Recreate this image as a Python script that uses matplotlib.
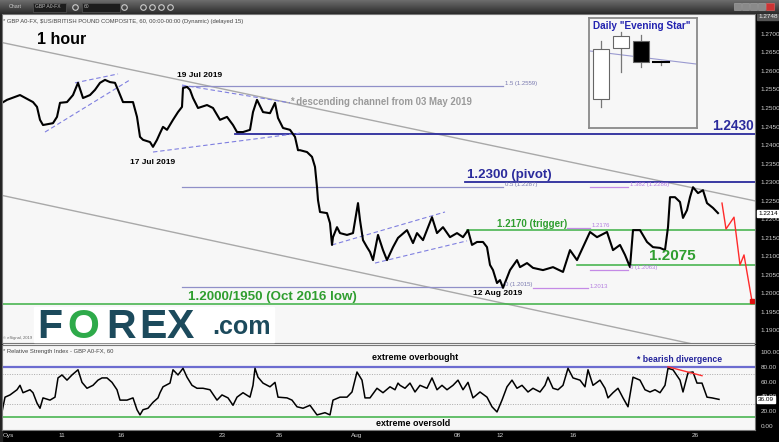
import numpy as np
import matplotlib.pyplot as plt
from matplotlib.patches import Rectangle
from matplotlib.colors import LinearSegmentedColormap
import matplotlib.transforms as mtransforms

plt.rcParams['font.family'] = ['Liberation Sans', 'DejaVu Sans']

# GBP/USD hourly closes (bar number, price)
bars = [2, 7, 20, 33, 37, 40, 43, 53, 57, 60, 67, 73, 78, 83, 90, 95, 100, 105, 110, 115,
        118, 123, 133, 137, 140, 143, 150, 153, 157, 160, 163, 167, 173, 178, 182, 183, 187, 190, 193, 198,
        207, 213, 220, 227, 233, 237, 243, 250, 253, 257, 263, 270, 275, 278, 283, 290, 295, 298, 300, 307,
        312, 315, 317, 318, 320, 327, 330, 332, 333, 337, 340, 347, 353, 358, 360, 363, 367, 370, 373, 378,
        383, 387, 393, 398, 407, 413, 417, 423, 432, 437, 443, 450, 457, 463, 468, 472, 477, 483, 487, 490,
        493, 497, 500, 503, 507, 510, 517, 520, 527, 533, 543, 553, 563, 570, 577, 583, 590, 597, 607, 613,
        620, 625, 630, 633, 640, 647, 653, 660, 665, 668, 670, 675, 680, 683, 687, 690, 693, 698, 703, 707,
        713, 718]
prices = [1.2514, 1.2522, 1.2535, 1.2516, 1.2503, 1.2468, 1.2454, 1.2459, 1.2476, 1.2514, 1.2516, 1.2535,
          1.2568, 1.2527, 1.2535, 1.2549, 1.2568, 1.2576, 1.2570, 1.2568, 1.2549, 1.2516, 1.2516, 1.2476,
          1.2422, 1.2414, 1.2408, 1.2395, 1.2414, 1.2432, 1.2449, 1.2441, 1.2468, 1.2489, 1.2503, 1.2554,
          1.2557, 1.2549, 1.2527, 1.2500, 1.2508, 1.2500, 1.2468, 1.2476, 1.2454, 1.2435, 1.2435, 1.2441,
          1.2489, 1.2522, 1.2489, 1.2486, 1.2514, 1.2473, 1.2446, 1.2441, 1.2422, 1.2386, 1.2386, 1.2381,
          1.2368, 1.2341, 1.2286, 1.2251, 1.2219, 1.2216, 1.2189, 1.2130, 1.2151, 1.2178, 1.2162, 1.2157,
          1.2162, 1.2243, 1.2197, 1.2143, 1.2124, 1.2111, 1.2089, 1.2157, 1.2116, 1.2089, 1.2124, 1.2149,
          1.2170, 1.2135, 1.2162, 1.2143, 1.2205, 1.2162, 1.2178, 1.2151, 1.2162, 1.2151, 1.2170, 1.2130,
          1.2138, 1.2138, 1.2124, 1.2076, 1.2062, 1.2027, 1.2035, 1.2014, 1.2041, 1.2062, 1.2089, 1.2070,
          1.2081, 1.2068, 1.2062, 1.2070, 1.2057, 1.2116, 1.2089, 1.2124, 1.2165, 1.2151, 1.2165, 1.2116,
          1.2130, 1.2103, 1.2070, 1.2170, 1.2170, 1.2138, 1.2124, 1.2122, 1.2116, 1.2178, 1.2259, 1.2259,
          1.2246, 1.2203, 1.2224, 1.2259, 1.2286, 1.2270, 1.2278, 1.2243, 1.2230, 1.2216]

# RSI(14) on the same bars
rsi_bars = [2, 5, 10, 17, 20, 23, 30, 33, 37, 40, 43, 50, 55, 58, 62, 67, 72, 78, 82, 87,
            93, 98, 102, 107, 112, 117, 120, 127, 133, 137, 140, 143, 148, 153, 158, 160, 163, 170, 173, 178,
            183, 187, 192, 197, 203, 210, 217, 222, 228, 233, 237, 243, 250, 253, 255, 258, 263, 270, 275, 278,
            287, 292, 297, 303, 310, 317, 325, 330, 333, 340, 347, 352, 357, 362, 365, 370, 377, 383, 390, 395,
            398, 400, 405, 410, 415, 420, 427, 432, 437, 442, 447, 453, 458, 463, 468, 473, 480, 487, 492, 497,
            502, 507, 512, 517, 522, 528, 533, 540, 545, 548, 553, 558, 563, 568, 573, 580, 585, 588, 593, 600,
            605, 608, 613, 618, 623, 628, 633, 640, 645, 650, 655, 660, 665, 668, 673, 680, 683, 688, 693, 697,
            702, 707, 712, 719]
rsi_vals = [19, 39, 42, 49, 55, 45, 49, 45, 31, 24, 38, 35, 39, 65, 69, 62, 69, 76, 59, 51,
            55, 62, 65, 65, 59, 49, 35, 35, 38, 22, 15, 22, 24, 32, 38, 45, 53, 58, 76, 69,
            78, 66, 55, 51, 51, 49, 35, 42, 38, 28, 39, 45, 39, 55, 78, 66, 58, 53, 59, 39,
            38, 35, 26, 24, 28, 15, 18, 15, 35, 39, 39, 46, 73, 62, 38, 38, 51, 45, 53, 49,
            58, 55, 51, 58, 46, 55, 51, 65, 49, 55, 49, 55, 62, 49, 59, 38, 46, 39, 26, 19,
            35, 53, 62, 51, 55, 46, 51, 46, 55, 66, 51, 49, 55, 78, 65, 62, 53, 76, 55, 62,
            51, 38, 45, 51, 38, 26, 66, 62, 49, 46, 49, 45, 55, 78, 76, 62, 46, 72, 73, 58,
            58, 39, 38, 36]

# key levels: (price, start bar)
blue_levels = [(1.2430, 235), (1.2300, 465)]
green_levels = [(1.2170, 467), (1.2075, 577), (1.1970, 0)]
fib_levels = [1.2559, 1.2287, 1.2015]
fib_labels = ['1.5 (1.2559)', '0.5 (1.2287)', '0 (1.2015)']
ext_levels = [(1.2176, 567, 590, '1.2176'), (1.2286, 590, 628, '1.382 (1.2286)'),
              (1.2063, 590, 628, '0 (1.2063)'), (1.2013, 533, 588, '1.2013')]

# descending channel from 03 May 2019
chan_x = [0, 755]
chan_upper = [1.2678, 1.2249]
chan_lower = [1.2265, 1.1826]

# small dashed patterns: ((x0, p0), (x1, p1))
dashed = [((75, 1.2568), (118, 1.2592)), ((45, 1.2435), (130, 1.2576)),
          ((182, 1.2562), (290, 1.2514)), ((153, 1.2381), (300, 1.2432)),
          ((332, 1.2130), (445, 1.2219)), ((375, 1.2081), (467, 1.2141))]

# projected path
proj_bars = [722, 726, 734, 740, 744, 752]
proj_prices = [1.2243, 1.2173, 1.2205, 1.2076, 1.2103, 1.1978]

# RSI divergence line
div_bars = [668, 702]
div_vals = [80, 68]

date_pos = [8, 62, 121, 222, 279, 357, 457, 500, 573, 695]
date_lab = ['Oys', '11', '16', '23', '26', 'Aug', '08', '12', '16', '26']

# daily candles for the "Evening Star" inset
cd_open = [31, 82, 89, 67]
cd_high = [89, 98, 95, 69]
cd_low = [23, 58, 63, 65]
cd_close = [81, 94, 68, 67.6]

W, H = 779, 442
def fx(px):
    return px / W
def fy(py):
    return 1 - py / H

BG = '#f7f7f7'
BLUE = '#2b2b9c'
GREEN = '#3cb043'
GTXT = '#2f9e2f'
SLATE = '#9090c8'
VIOLET = '#c48ae6'
TICK = '#cfcfcf'

fig = plt.figure(figsize=(W / 100, H / 100), dpi=100)
fig.patch.set_facecolor(BG)

# black frame strips
fig.add_artist(Rectangle((fx(755), 0), 1 - fx(755), fy(14), transform=fig.transFigure,
                         color='black', zorder=-1))
fig.add_artist(Rectangle((0, 0), 1, fy(430), transform=fig.transFigure, color='black', zorder=-1))
fig.add_artist(Rectangle((0, 0), fx(2), fy(14), transform=fig.transFigure, color='#222222', zorder=-1))

# ---- price panel
ax = fig.add_axes([fx(2), fy(343), fx(755) - fx(2), fy(14) - fy(343)])
ax.set_facecolor(BG)
ax.set_xlim(2, 755)
ax.set_ylim(1.1865, 1.2754)
for s in ax.spines.values():
    s.set_color('#777777')
    s.set_linewidth(0.8)
ax.set_xticks([])
ax.yaxis.tick_right()
yt = np.arange(1.19, 1.27001, 0.005)
ax.set_yticks(yt)
ax.set_yticklabels(['%.4f' % v for v in yt])
ax.tick_params(axis='y', length=0, pad=4, labelsize=4.6, labelcolor=TICK)

ax.plot(chan_x, chan_upper, color='#a9a9a9', lw=1.0)
ax.plot(chan_x, chan_lower, color='#a9a9a9', lw=1.0)

for p, x0 in blue_levels:
    ax.plot([x0, 755], [p, p], color=BLUE, lw=1.3)
for p, x0 in green_levels:
    ax.plot([x0, 755], [p, p], color=GREEN, lw=1.1)
for p, lab in zip(fib_levels, fib_labels):
    ax.plot([182, 503], [p, p], color=SLATE, lw=0.9)
    ax.text(505, p + 0.0007, lab, fontsize=4.3, color='#7a7ab0', va='center')
for p, x0, x1, lab in ext_levels:
    ax.plot([x0, x1], [p, p], color=VIOLET, lw=0.9)
    ax.text(x1 + 2, p + 0.0006, lab, fontsize=4.3, color='#b47ee0', va='center')

for (x0, p0), (x1, p1) in dashed:
    ax.plot([x0, x1], [p0, p1], color='#7f7fe0', lw=0.8, dashes=(4, 2.5))

ax.plot(bars, prices, color='black', lw=1.5)
ax.plot(proj_bars, proj_prices, color='#ff2a2a', lw=1.0)
ax.plot(proj_bars[-1:], proj_prices[-1:], 's', color='#e01010', ms=3)

bold = dict(fontweight='bold')
ax.text(37, 1.2684, '1 hour', fontsize=11.5, va='center', **bold)
ax.text(200, 1.2589, '19 Jul 2019', fontsize=6, ha='center', va='center', **bold)
ax.text(153, 1.2354, '17 Jul 2019', fontsize=6, ha='center', va='center', **bold)
ax.text(498, 1.2000, '12 Aug 2019', fontsize=6, ha='center', va='center', **bold)
ax.text(290, 1.2516, '* descending channel from 03 May 2019', fontsize=6.9,
        color='#9a9a9a', va='center', **bold)
ax.text(754, 1.2433, '1.2430', fontsize=9.8, color=BLUE, ha='right', va='bottom', **bold)
ax.text(467, 1.2302, '1.2300 (pivot)', fontsize=9.5, color=BLUE, va='bottom', **bold)
ax.text(497, 1.2172, '1.2170 (trigger)', fontsize=7, color=GTXT, va='bottom', **bold)
ax.text(649, 1.2082, '1.2075', fontsize=11, color=GTXT, va='bottom', **bold)
ax.text(188, 1.1973, '1.2000/1950 (Oct 2016 low)', fontsize=9.6, color=GTXT, va='bottom', **bold)

tr = mtransforms.blended_transform_factory(ax.transAxes, ax.transData)
ax.text(1.004, 1.2214, '1.2214', transform=tr, fontsize=4.6, va='center', color='black',
        bbox=dict(boxstyle='square,pad=0.15', fc='white', ec='white'), clip_on=False)
ax.text(1.004, 1.2748, '1.2748', transform=tr, fontsize=4.6, va='center', color='#eeeeee',
        bbox=dict(boxstyle='square,pad=0.15', fc='#555555', ec='#555555'), clip_on=False)

# ---- RSI panel
rx = fig.add_axes([fx(2), fy(430), fx(755) - fx(2), fy(345) - fy(430)])
rx.set_facecolor(BG)
rx.set_xlim(2, 755)
rx.set_ylim(-5.4, 109.5)
for s in rx.spines.values():
    s.set_color('#777777')
    s.set_linewidth(0.8)
rx.yaxis.tick_right()
rx.set_yticks([0, 20, 40, 60, 80, 100])
rx.set_yticklabels(['%.2f' % v for v in [0, 20, 40, 60, 80, 100]])
rx.tick_params(axis='y', length=0, pad=4, labelsize=4.6, labelcolor=TICK)
rx.set_xticks(date_pos)
rx.set_xticklabels(date_lab)
rx.tick_params(axis='x', length=0, pad=2.5, labelsize=4.6, labelcolor=TICK)

rx.axhline(80, color='#6c6cd0', lw=1.6)
rx.axhline(12, color=GREEN, lw=1.1)
rx.axhline(70, color='#aaaaaa', lw=0.7, ls=(0, (1, 1.5)))
rx.axhline(30, color='#aaaaaa', lw=0.7, ls=(0, (1, 1.5)))
rx.plot(rsi_bars, rsi_vals, color='black', lw=1.1)
rx.plot(div_bars, div_vals, color='#ff3030', lw=1.0)
rx.text(415, 93, 'extreme overbought', fontsize=6.4, ha='center', va='center', **bold)
rx.text(413, 4, 'extreme oversold', fontsize=6.4, ha='center', va='center', **bold)
rx.text(680, 90.5, '* bearish divergence', fontsize=6.2, color='#22229a', ha='center',
        va='center', **bold)
rtr = mtransforms.blended_transform_factory(rx.transAxes, rx.transData)
rx.text(1.004, 36.09, '36.09', transform=rtr, fontsize=4.6, va='center', color='black',
        bbox=dict(boxstyle='square,pad=0.15', fc='white', ec='white'), clip_on=False)

# ---- header texts
fig.text(fx(3), fy(21), '* GBP A0-FX, $US/BRITISH POUND COMPOSITE, 60, 00:00-00:00 (Dynamic) (delayed 15)',
         fontsize=4.2, color='#444444', va='center')
fig.text(fx(3), fy(351), '* Relative Strength Index - GBP A0-FX, 60', fontsize=4.2,
         color='#444444', va='center')
fig.text(fx(3), fy(338), '\u00a9 eSignal, 2019', fontsize=3, color='#666666', va='center')

# ---- FOREX.com logo
fig.add_artist(Rectangle((fx(34), fy(342)), fx(274) - fx(34), fy(307) - fy(342),
                         transform=fig.transFigure, color='white', zorder=2))
navy = '#1c4a5c'
for ch, px, col in [('F', 37, navy), ('O', 67, '#2eaa4a'), ('R', 106, navy),
                    ('E', 139, navy), ('X', 167, navy)]:
    fig.text(fx(px), fy(338.5), ch, fontsize=29.5, color=col, fontweight='bold',
             va='baseline', ha='left', zorder=3)
fig.text(fx(212), fy(333.5), '.com', fontsize=18, color=navy, fontweight='bold',
         va='baseline', ha='left', zorder=3)

# ---- Evening Star inset
ix = fig.add_axes([fx(589), fy(128), fx(697) - fx(589), fy(18) - fy(128)])
ix.set_facecolor(BG)
ix.set_xlim(-0.6, 4.8)
ix.set_ylim(2, 112)
ix.set_xticks([])
ix.set_yticks([])
for s in ix.spines.values():
    s.set_color('#8a8a8a')
    s.set_linewidth(1.3)
ix.plot([-0.55, 4.75], [79, 66], color='#9a9ad0', lw=0.8)
for i in range(4):
    ix.plot([i, i], [cd_low[i], cd_high[i]], color='#777777', lw=0.9, zorder=2)
    lo, hi = sorted([cd_open[i], cd_close[i]])
    fc = 'white' if cd_close[i] >= cd_open[i] else 'black'
    if i == 3:
        ix.plot([i - 0.4, i + 0.4], [cd_close[i], cd_close[i]], color='black', lw=1.5, zorder=3)
    else:
        ix.add_patch(Rectangle((i - 0.42, lo), 0.84, hi - lo, fc=fc, ec='#666666', lw=0.8, zorder=3))
ix.text(2.05, 104, 'Daily "Evening Star"', fontsize=7.2, color='#2323b0', ha='center',
        va='center', **bold)

# ---- toolbar
tb = fig.add_axes([0, fy(14), 1, 14 / H])
grad = np.linspace(0, 1, 20).reshape(-1, 1)
cmap = LinearSegmentedColormap.from_list('tb', ['#6c6c6c', '#2c2c2c'])
tb.imshow(grad, aspect='auto', cmap=cmap, extent=[0, W, 14, 0])
tb.set_xlim(0, W)
tb.set_ylim(14, 0)
tb.axis('off')
tb.text(9, 7, 'Chart', fontsize=3.8, color='#cccccc', va='center')
tb.add_patch(Rectangle((33, 2.5), 33, 9, fc='#1d1d1d', ec='#555555', lw=0.5))
tb.text(35, 7, 'GBP A0-FX', fontsize=3.6, color='#bbbbbb', va='center')
tb.add_patch(Rectangle((82, 2.5), 38, 9, fc='#1d1d1d', ec='#555555', lw=0.5))
tb.text(84, 7, '60', fontsize=3.6, color='#bbbbbb', va='center')
for px in [75, 124, 143, 152, 161, 170]:
    tb.plot(px, 7, 'o', ms=4, mfc='none', mec='#cccccc', mew=0.8)
for px in [734, 742, 750, 758]:
    tb.add_patch(Rectangle((px, 3), 7, 7, fc='#8a8a8a', ec='#aaaaaa', lw=0.4))
tb.add_patch(Rectangle((766, 3), 8, 7, fc='#cc3333', ec='#ee6666', lw=0.4))

fig.savefig('out.png', dpi=100, facecolor=fig.get_facecolor())
